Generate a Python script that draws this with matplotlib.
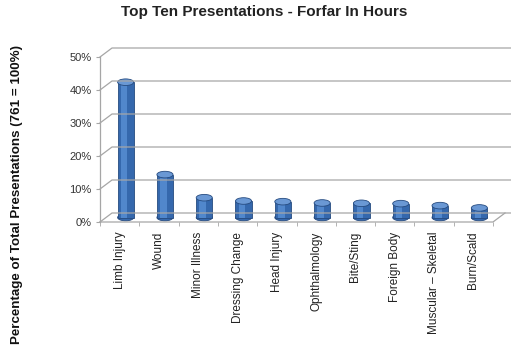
import matplotlib.pyplot as plt
from matplotlib.patches import Ellipse
from matplotlib.lines import Line2D
from matplotlib.transforms import ScaledTranslation, IdentityTransform

categories = ['Limb Injury', 'Wound', 'Minor Illness', 'Dressing Change', 'Head Injury',
              'Ophthalmology', 'Bite/Sting', 'Foreign Body', 'Muscular \u2013 Skeletal', 'Burn/Scald']
values = [0.41, 0.13, 0.06, 0.05, 0.048, 0.044, 0.043, 0.042, 0.036, 0.029]
yticks = [0, 0.1, 0.2, 0.3, 0.4, 0.5]
ytick_labels = ['0%', '10%', '20%', '30%', '40%', '50%']

plt.rcParams['font.family'] = ['Liberation Sans Narrow', 'Liberation Sans', 'DejaVu Sans']

W, H = 511, 354
fig = plt.figure(figsize=(W / 100, H / 100), dpi=100)
ax = fig.add_axes([100 / W, (H - 222) / H, 393 / W, 165 / H])
ax.set_xlim(-0.5, len(categories) - 0.5)
ax.set_ylim(0, 0.5)
ax.patch.set_visible(False)
for s in ax.spines.values():
    s.set_visible(False)

grid_c = '#a6a6a6'
back = ax.transData + ScaledTranslation(0.12, 0.09, fig.dpi_scale_trans)
mid = ax.transData + ScaledTranslation(0.06, 0.045, fig.dpi_scale_trans)

fig.canvas.draw()
x0, x1 = ax.get_xlim()
for v in yticks:
    fx, fy = ax.transData.transform((x0, v))
    bx, by = back.transform((x0, v))
    fig.add_artist(Line2D([fx, bx, W], [fy, by, by], transform=IdentityTransform(),
                          color=grid_c, lw=0.9))
# floor front edge and right diagonal
fx0, fy0 = ax.transData.transform((x0, 0))
fx1, _ = ax.transData.transform((x1, 0))
bx1, by1 = back.transform((x1, 0))
fig.add_artist(Line2D([fx0, fx1, bx1], [fy0, fy0, by1], transform=IdentityTransform(),
                      color=grid_c, lw=0.9))
# y axis
_, fytop = ax.transData.transform((x0, 0.5))
fig.add_artist(Line2D([fx0, fx0], [fy0, fytop], transform=IdentityTransform(),
                      color=grid_c, lw=0.9))

bw = 0.41
cap_h = 0.02
for i, v in enumerate(values):
    ax.bar(i, v, width=bw, color='#3568ad', edgecolor='#264b80', lw=0.6,
           transform=mid, zorder=3)
    ax.bar(i - 0.04, v, width=bw * 0.4, color='#5187cc', lw=0,
           transform=mid, zorder=3)
    ax.add_patch(Ellipse((i, 0), bw, cap_h, facecolor='#3568ad', edgecolor='#264b80',
                         lw=0.6, transform=mid, zorder=2.9))
    ax.add_patch(Ellipse((i, v), bw, cap_h, facecolor='#6a98d4', edgecolor='#264b80',
                         lw=0.6, transform=mid, zorder=4))

ax.set_yticks(yticks)
ax.set_yticklabels(ytick_labels, fontsize=8, color='#333333')
ax.tick_params(axis='y', length=3, color=grid_c, pad=3)
ax.set_xticks(range(len(categories)))
ax.set_xticklabels(categories, rotation=90, fontsize=8.5, color='#222222')
ax.tick_params(axis='x', length=0, pad=7)
ax.set_xticks([i + 0.5 for i in range(-1, len(categories))], minor=True)
ax.tick_params(axis='x', which='minor', length=3, color=grid_c, direction='out')

fig.text(264 / W, 1 - 12 / H, 'Top Ten Presentations - Forfar In Hours', ha='center',
         va='center', fontsize=11, fontweight='bold', family=['Liberation Sans', 'DejaVu Sans'],
         color='#222222')
fig.text(17 / W, 1 - 195 / H, 'Percentage of Total Presentations (761 = 100%)', rotation=90,
         ha='center', va='center', fontsize=9.6, fontweight='bold',
         family=['Liberation Sans Narrow', 'Liberation Sans', 'DejaVu Sans'], color='#111111')

fig.savefig('out.png', dpi=100)
